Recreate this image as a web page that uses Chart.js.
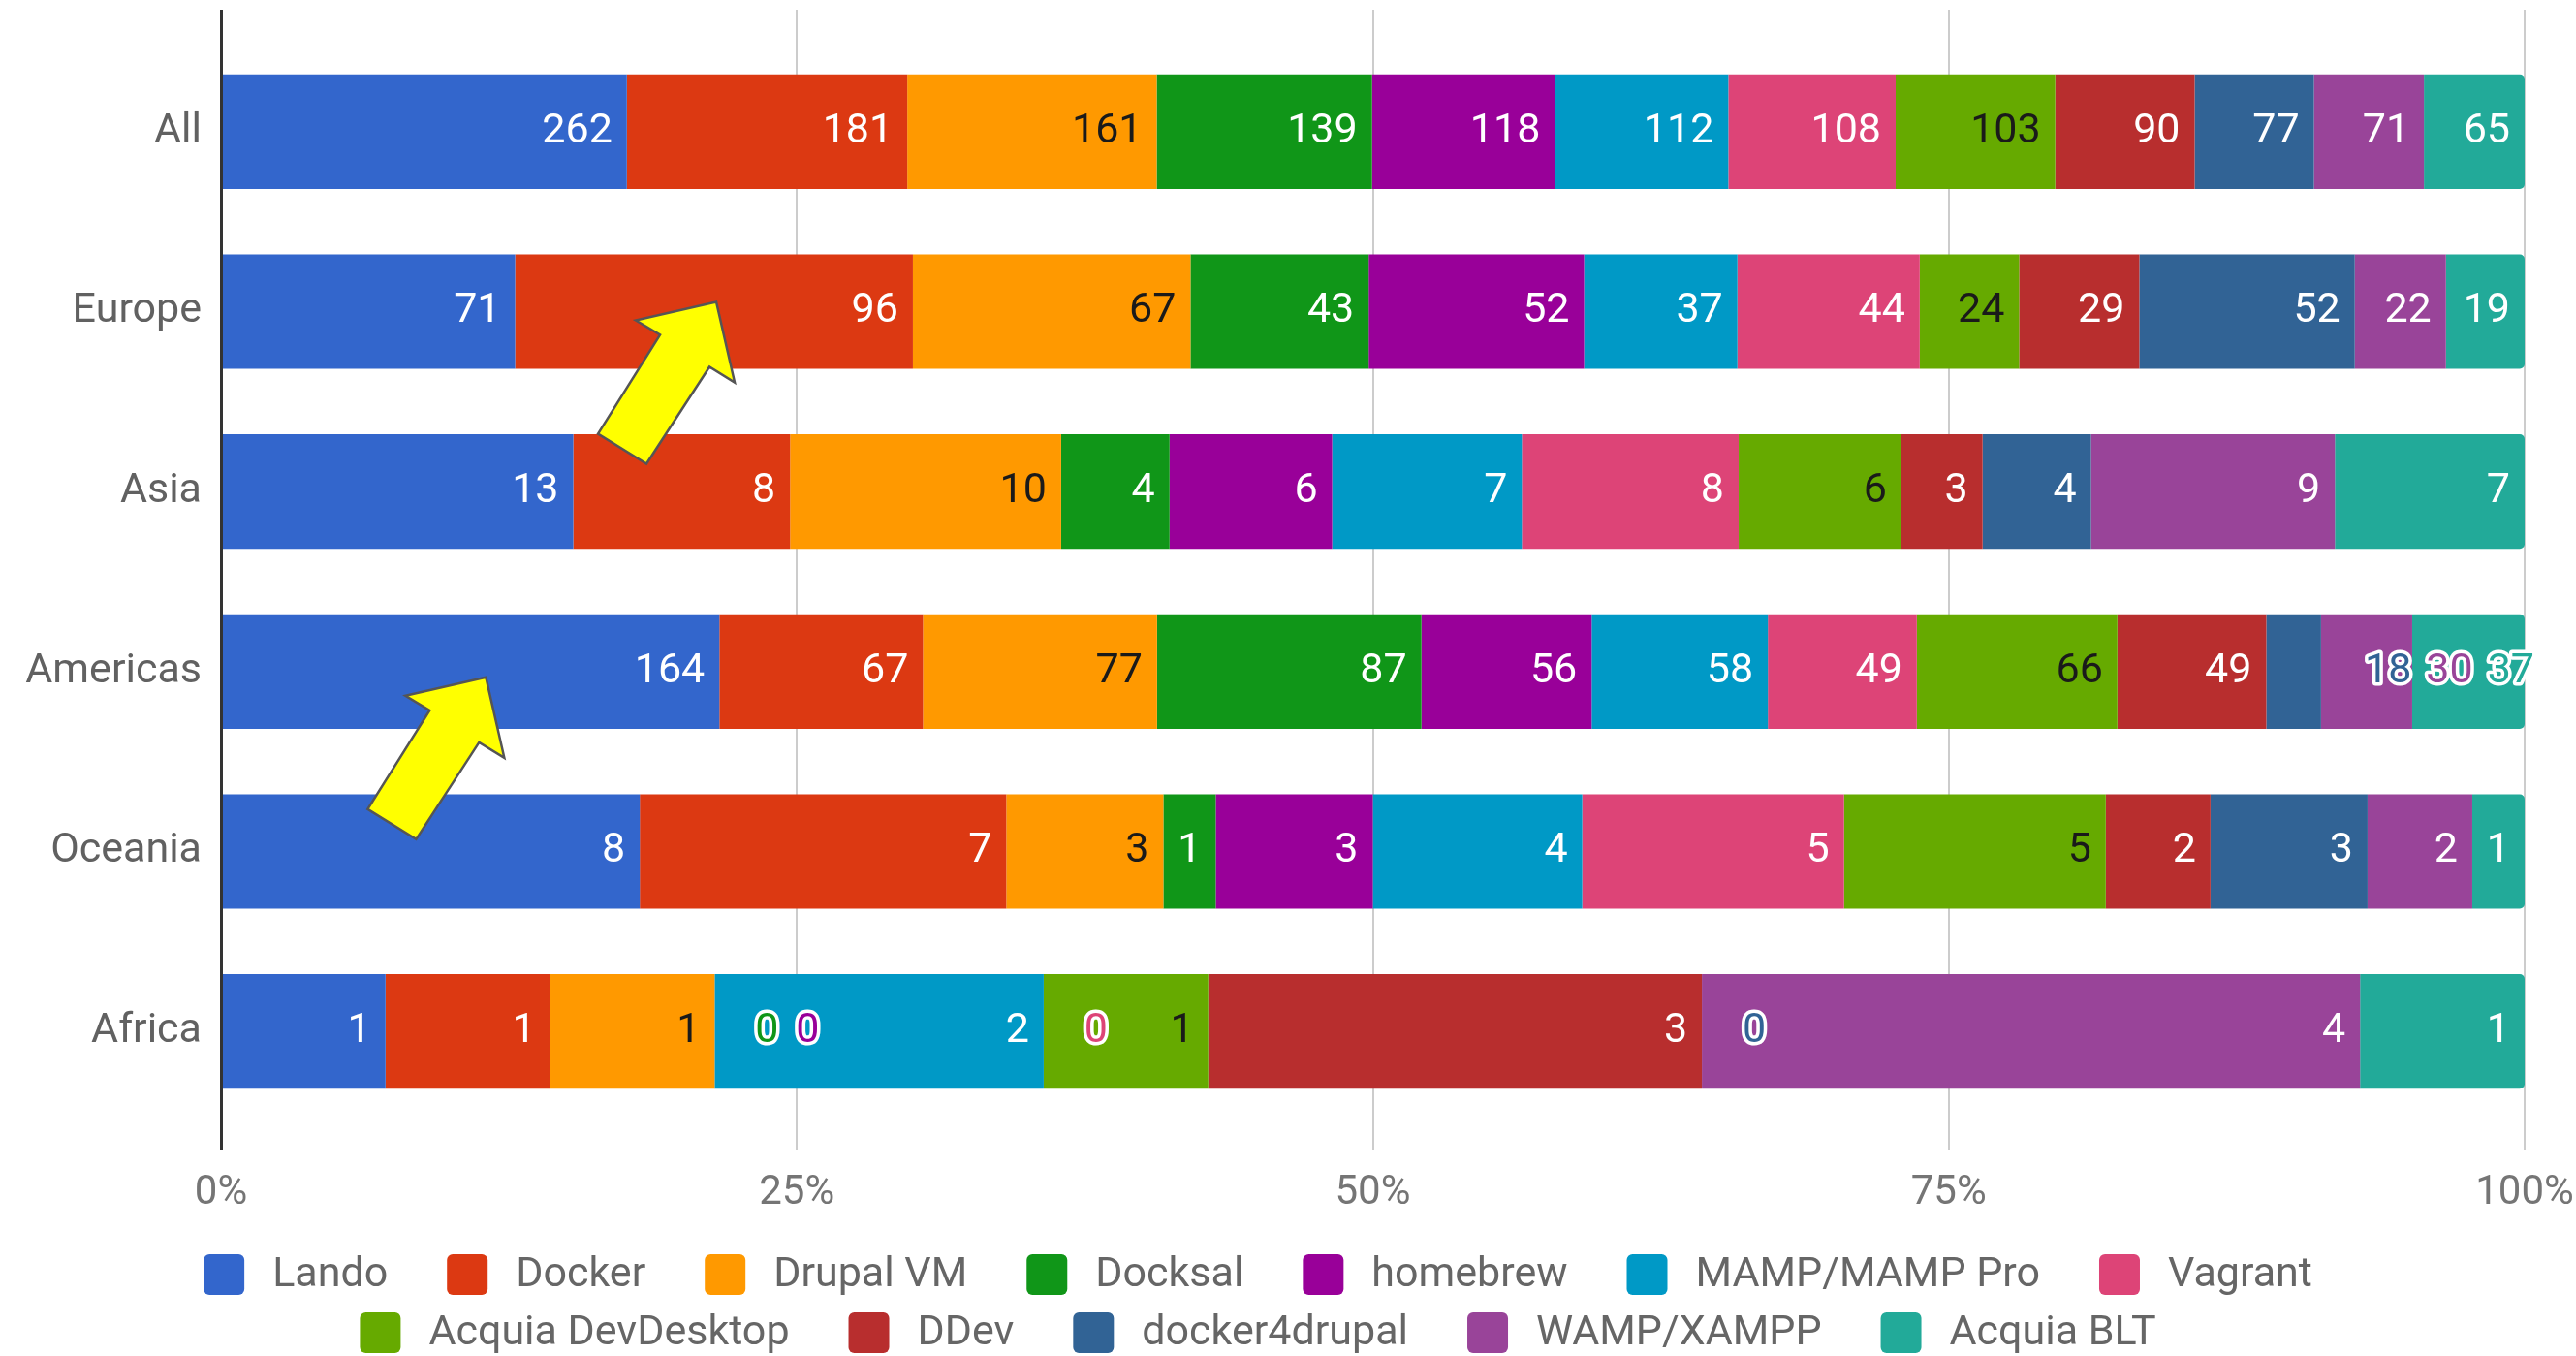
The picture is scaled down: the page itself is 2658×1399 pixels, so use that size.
<!DOCTYPE html>
<html>
<head>
<meta charset="utf-8">
<script src="https://cdn.jsdelivr.net/npm/chart.js@4.4.1/dist/chart.umd.min.js"></script>
<style>
html,body{margin:0;padding:0;background:#fff;overflow:hidden}
canvas{display:block}
</style>
</head>
<body>
<canvas id="c" width="2658" height="1399"></canvas>
<script>
// ---------- DATA ----------
const categories = ['All', 'Europe', 'Asia', 'Americas', 'Oceania', 'Africa'];
const seriesNames = ['Lando', 'Docker', 'Drupal VM', 'Docksal', 'homebrew', 'MAMP/MAMP Pro',
  'Vagrant', 'Acquia DevDesktop', 'DDev', 'docker4drupal', 'WAMP/XAMPP', 'Acquia BLT'];
const lando            = [262, 71, 13, 164, 8, 1];
const docker           = [181, 96, 8, 67, 7, 1];
const drupalVM         = [161, 67, 10, 77, 3, 1];
const docksal          = [139, 43, 4, 87, 1, 0];
const homebrew         = [118, 52, 6, 56, 3, 0];
const mamp             = [112, 37, 7, 58, 4, 2];
const vagrant          = [108, 44, 8, 49, 5, 0];
const acquiaDevDesktop = [103, 24, 6, 66, 5, 1];
const ddev             = [90, 29, 3, 49, 2, 3];
const docker4drupal    = [77, 52, 4, 18, 3, 0];
const wampXampp        = [71, 22, 9, 30, 2, 4];
const acquiaBLT        = [65, 19, 7, 37, 1, 1];
const seriesValues = [lando, docker, drupalVM, docksal, homebrew, mamp, vagrant,
  acquiaDevDesktop, ddev, docker4drupal, wampXampp, acquiaBLT];
const xTickValues = [0, 25, 50, 75, 100];
const xTickLabels = ['0%', '25%', '50%', '75%', '100%'];
// annotation arrows: anchored to a category and a percent position
const arrowCategories = ['Europe', 'Americas'];
const arrowPercents = [21.5, 11.5];

// ---------- STYLE ----------
const seriesColors = ['#3366cc', '#dc3912', '#ff9900', '#109618', '#990099', '#0099c6',
  '#dd4477', '#66aa00', '#b82e2e', '#316395', '#994499', '#22aa99'];
const insideTextColors = ['#fff', '#fff', '#1a1a1a', '#fff', '#fff', '#fff',
  '#fff', '#1a1a1a', '#fff', '#fff', '#fff', '#fff'];
const FONT = 'Roboto';
const LABEL_FONT = '43px ' + FONT;
const LABEL_PAD = 15;
const FIT_MARGIN = 20;
const arrowDy = [-10, 6];
const arrowShape = [[0,0],[19,83],[-7,67],[-72,167],[-122,136],[-58,34],[-83,19]];

// ---------- derived percentages ----------
const rowTotals = categories.map((c, r) => seriesValues.reduce((a, s) => a + s[r], 0));
const seriesPercents = seriesValues.map(s => s.map((v, r) => v / rowTotals[r] * 100));

const datasets = seriesNames.map((name, i) => ({
  label: name,
  data: seriesPercents[i],
  backgroundColor: seriesColors[i],
  borderWidth: 0,
  borderRadius: i === seriesNames.length - 1 ? {topLeft: 0, bottomLeft: 0, topRight: 5, bottomRight: 5} : 0,
  borderSkipped: false,
  categoryPercentage: 1,
  barPercentage: 0.636
}));

// grid lines (behind bars) and axis line (in front)
const gridPlugin = {
  id: 'gridLines',
  beforeDatasetsDraw(chart) {
    const {ctx, chartArea, scales} = chart;
    ctx.save();
    ctx.strokeStyle = '#cccccc';
    ctx.lineWidth = 2;
    xTickValues.forEach(v => {
      if (v === 0) return;
      const x = Math.round(scales.x.getPixelForValue(v));
      ctx.beginPath();
      ctx.moveTo(x, chartArea.top - 33);
      ctx.lineTo(x, chartArea.bottom + 29);
      ctx.stroke();
    });
    ctx.restore();
  },
  afterDatasetsDraw(chart) {
    const {ctx, chartArea, scales} = chart;
    ctx.save();
    ctx.strokeStyle = '#333333';
    ctx.lineWidth = 3;
    const x = Math.round(scales.x.getPixelForValue(0)) + 0.5;
    ctx.beginPath();
    ctx.moveTo(x, chartArea.top - 33);
    ctx.lineTo(x, chartArea.bottom + 29);
    ctx.stroke();
    ctx.restore();
  }
};

function drawOutlined(ctx, text, x, y, color) {
  ctx.lineWidth = 7;
  ctx.lineJoin = 'round';
  ctx.strokeStyle = '#ffffff';
  ctx.strokeText(text, x, y);
  ctx.fillStyle = color;
  ctx.fillText(text, x, y);
}

const labelPlugin = {
  id: 'segLabels',
  afterDatasetsDraw(chart) {
    const ctx = chart.ctx;
    ctx.save();
    ctx.font = LABEL_FONT;
    ctx.textBaseline = 'middle';
    const n = chart.data.datasets.length;
    categories.forEach((cat, r) => {
      const items = [];
      let tail = false;
      for (let s = 0; s < n; s++) {
        const el = chart.getDatasetMeta(s).data[r];
        const v = seriesValues[s][r];
        const text = String(v);
        const w = ctx.measureText(text).width;
        const start = Math.min(el.x, el.base), end = Math.max(el.x, el.base);
        let mode;
        if (v === 0) mode = 'zero';
        else if (tail || w + FIT_MARGIN > end - start) { mode = 'tail'; tail = true; }
        else mode = 'in';
        items.push({s, text, w, start, end, y: el.y, mode});
      }
      // inside labels
      items.filter(it => it.mode === 'in').forEach(it => {
        ctx.textAlign = 'right';
        ctx.fillStyle = insideTextColors[it.s];
        ctx.fillText(it.text, it.end - LABEL_PAD, it.y);
      });
      // zero labels, grouped by boundary
      let prevBoundary = null, k = 0;
      items.filter(it => it.mode === 'zero').forEach(it => {
        if (prevBoundary !== null && Math.abs(it.start - prevBoundary) < 0.5) k++; else k = 0;
        prevBoundary = it.start;
        ctx.textAlign = 'center';
        drawOutlined(ctx, it.text, it.start + 54 + k * 42, it.y, seriesColors[it.s]);
      });
      // overflow labels packed at the row end
      const tails = items.filter(it => it.mode === 'tail');
      if (tails.length) {
        let right = Math.max(...items.map(it => it.end)) + 10;
        for (let i = tails.length - 1; i >= 0; i--) {
          const it = tails[i];
          ctx.textAlign = 'right';
          drawOutlined(ctx, it.text, right, it.y, seriesColors[it.s]);
          right -= it.w + 15;
        }
      }
    });
    ctx.restore();
  }
};

const arrowPlugin = {
  id: 'arrows',
  afterDraw(chart) {
    const {ctx, scales} = chart;
    ctx.save();
    arrowCategories.forEach((cat, i) => {
      const tx = scales.x.getPixelForValue(arrowPercents[i]);
      const ty = scales.y.getPixelForValue(categories.indexOf(cat)) + arrowDy[i];
      ctx.beginPath();
      arrowShape.forEach(([dx, dy], j) => {
        if (j === 0) ctx.moveTo(tx + dx, ty + dy); else ctx.lineTo(tx + dx, ty + dy);
      });
      ctx.closePath();
      ctx.fillStyle = '#ffff00';
      ctx.fill();
      ctx.strokeStyle = '#555555';
      ctx.lineWidth = 2.5;
      ctx.lineJoin = 'miter';
      ctx.stroke();
    });
    ctx.restore();
  }
};

const legendPlugin = {
  id: 'customLegend',
  afterDraw(chart) {
    const ctx = chart.ctx;
    ctx.save();
    ctx.font = '43px ' + FONT;
    ctx.textBaseline = 'middle';
    const box = 42, gapText = 29, gapItem = 61, maxW = 2560;
    const rows = [[]];
    let rowW = 0;
    seriesNames.forEach((name, i) => {
      const w = box + gapText + ctx.measureText(name).width;
      const cur = rows[rows.length - 1];
      if (cur.length && rowW + gapItem + w > maxW) { rows.push([]); rowW = 0; }
      const row = rows[rows.length - 1];
      rowW += (row.length ? gapItem : 0) + w;
      row.push({name, i, w});
      row.width = rowW;
    });
    const rowY = [1315, 1375];
    rows.forEach((row, ri) => {
      let x = 1298 - row.width / 2;
      const y = rowY[ri] !== undefined ? rowY[ri] : 1315 + ri * 60;
      row.forEach(it => {
        ctx.fillStyle = seriesColors[it.i];
        ctx.beginPath();
        if (ctx.roundRect) ctx.roundRect(x, y - box / 2, box, box, 6);
        else ctx.rect(x, y - box / 2, box, box);
        ctx.fill();
        ctx.fillStyle = '#666666';
        ctx.textAlign = 'left';
        ctx.fillText(it.name, x + box + gapText, y + 1);
        x += it.w + gapItem;
      });
    });
    ctx.restore();
  }
};

function build() {
  new Chart(document.getElementById('c'), {
    type: 'bar',
    data: {labels: categories, datasets},
    plugins: [gridPlugin, labelPlugin, arrowPlugin, legendPlugin],
    options: {
      indexAxis: 'y',
      responsive: false,
      animation: false,
      devicePixelRatio: 1,
      layout: {padding: {top: 43, right: 53, bottom: 0, left: 0}},
      plugins: {legend: {display: false}, tooltip: {enabled: false}},
      scales: {
        x: {
          stacked: true,
          min: 0, max: 100,
          afterBuildTicks: s => { s.ticks = xTickValues.map(v => ({value: v})); },
          ticks: {
            callback: (v) => xTickLabels[xTickValues.indexOf(v)],
            font: {family: FONT, size: 42},
            color: '#757575',
            padding: 41,
            maxRotation: 0
          },
          grid: {display: false},
          border: {display: false},
          afterFit: s => { s.height = 242; s.paddingLeft = 0; s.paddingRight = 0; }
        },
        y: {
          stacked: true,
          ticks: {font: {family: FONT, size: 43}, color: '#616161', padding: 12},
          grid: {display: false},
          border: {display: false},
          afterFit: s => { s.width = 228; }
        }
      }
    }
  });
}
if (document.fonts && document.fonts.load) {
  Promise.all([document.fonts.load('43px Roboto'), document.fonts.load('42px Roboto')])
    .then(build, build);
} else build();
</script>
</body>
</html>
